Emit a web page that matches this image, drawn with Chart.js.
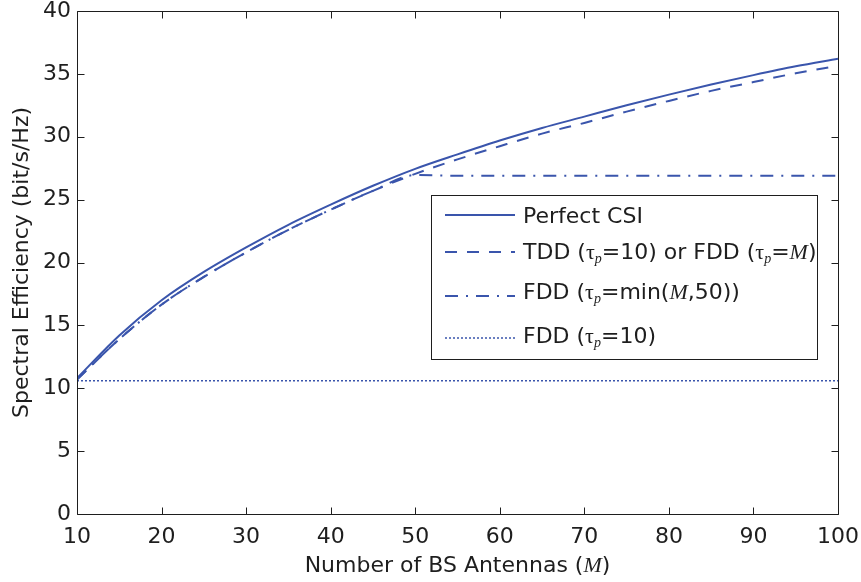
<!DOCTYPE html>
<html><head><meta charset="utf-8">
<script src="https://cdn.jsdelivr.net/npm/chart.js@4/dist/chart.umd.min.js"></script>
<style>html,body{margin:0;padding:0;background:#fff}#wrap{width:861px;height:582px}</style>
</head><body><div id="wrap"><canvas id="c" width="861" height="582"></canvas></div>
<script>
// ---- data ----
const antennas   = [10,15,20,25,30,35,40,45,50,55,60,65,70,75,80,85,90,95,100];
const perfectCSI = [10.8,14.2,17.0,19.25,21.2,23.0,24.6,26.1,27.45,28.6,29.7,30.7,31.6,32.5,33.35,34.15,34.9,35.6,36.2];
const tddOrFddM  = [10.7,13.9,16.65,18.85,20.8,22.6,24.2,25.7,27.05,28.2,29.25,30.25,31.1,32.0,32.85,33.65,34.35,35.05,35.65];
const fddMin50   = [10.7,13.9,16.65,18.85,20.8,22.6,24.2,25.7,26.95,26.9,26.9,26.9,26.9,26.9,26.9,26.9,26.9,26.9,26.9];
const fddTau10   = [10.6,10.6,10.6,10.6,10.6,10.6,10.6,10.6,10.6,10.6,10.6,10.6,10.6,10.6,10.6,10.6,10.6,10.6,10.6];
const xTicks = [10,20,30,40,50,60,70,80,90,100];
const yTicks = [0,5,10,15,20,25,30,35,40];

const BLUE = '#3a55ac';
const INK = '#1e1e1e';
const SANS = '"DejaVu Sans"';
const SERIF = '"Liberation Serif"';

function pts(vals){ return antennas.map((m,i)=>({x:m,y:vals[i]})); }

function richWidth(ctx, segs){
  let w=0; for(const s of segs){ ctx.font=s.f; w+=ctx.measureText(s.t).width; } return w;
}
function drawRich(ctx, x, y, segs){
  for(const s of segs){ ctx.font=s.f; ctx.fillText(s.t, x, y+(s.dy||0)); x+=ctx.measureText(s.t).width; }
}
const F = '22px '+SANS;
const TAU = {t:'\u03c4', f:'22px '+SERIF};
const SUBP = {t:'p', f:'italic 14px '+SERIF, dy:4};
const MIT = {t:'M', f:'italic 22px '+SERIF};

const legendItems = [
  {dash:[], lw:2, segs:[{t:'Perfect CSI',f:F}], ly:215, by:222.7},
  {dash:[12,10], lw:2, segs:[{t:'TDD (',f:F},TAU,SUBP,{t:'=10) or FDD (',f:F},TAU,SUBP,{t:'=',f:F},MIT,{t:')',f:F}], ly:252, by:258.5},
  {dash:[13,8,2,8], lw:2, segs:[{t:'FDD (',f:F},TAU,SUBP,{t:'=min(',f:F},MIT,{t:',50))',f:F}], ly:296, by:299},
  {dash:[2,2], lw:1.5, segs:[{t:'FDD (',f:F},TAU,SUBP,{t:'=10)',f:F}], ly:338, by:343.3},
];

const decor = {
  id:'decor',
  afterDraw(chart){
    const ctx=chart.ctx, a=chart.chartArea, xs=chart.scales.x, ys=chart.scales.y;
    ctx.save();
    ctx.strokeStyle=INK; ctx.lineWidth=1; ctx.setLineDash([]);
    const L=Math.round(a.left)+0.5, R=Math.round(a.right)+0.5, T=Math.round(a.top)+0.5, B=Math.round(a.bottom)+0.5;
    ctx.beginPath(); ctx.rect(L,T,R-L,B-T); ctx.stroke();
    ctx.beginPath();
    for(const v of yTicks){ const p=Math.round(ys.getPixelForValue(v))+0.5; ctx.moveTo(L,p); ctx.lineTo(L+7,p); ctx.moveTo(R,p); ctx.lineTo(R-7,p); }
    for(const v of xTicks){ const p=Math.round(xs.getPixelForValue(v))+0.5; ctx.moveTo(p,B); ctx.lineTo(p,B-7); ctx.moveTo(p,T); ctx.lineTo(p,T+7); }
    ctx.stroke();
    // legend
    ctx.fillStyle='#fff'; ctx.fillRect(431,195,387,165);
    ctx.strokeRect(431.5,195.5,386,164);
    for(const it of legendItems){
      ctx.strokeStyle=BLUE; ctx.lineWidth=it.lw; ctx.setLineDash(it.dash);
      ctx.beginPath(); ctx.moveTo(445,it.ly); ctx.lineTo(515,it.ly); ctx.stroke();
      ctx.setLineDash([]);
      ctx.fillStyle=INK; ctx.textAlign='left'; ctx.textBaseline='alphabetic';
      drawRich(ctx,523,it.by,it.segs);
    }
    // axis titles
    ctx.fillStyle=INK; ctx.textBaseline='alphabetic'; ctx.textAlign='left';
    const xt=[{t:'Number of BS Antennas (',f:F},MIT,{t:')',f:F}];
    const xw=richWidth(ctx,xt);
    drawRich(ctx,(a.left+a.right)/2-xw/2,571.5,xt);
    ctx.translate(28,(a.top+a.bottom)/2); ctx.rotate(-Math.PI/2);
    const yt=[{t:'Spectral Efficiency (bit/s/Hz)',f:F}];
    const yw=richWidth(ctx,yt);
    drawRich(ctx,-yw/2,0,yt);
    ctx.restore();
  }
};

const ds = (label, vals, dash, lw, mode) => ({
  label, data: pts(vals), borderColor: BLUE, backgroundColor: BLUE, borderWidth: lw,
  borderDash: dash, pointRadius: 0, fill: false,
  cubicInterpolationMode: mode, tension: 0
});

new Chart(document.getElementById('c'), {
  type: 'line',
  data: { datasets: [
    ds('FDD (τp=10)', fddTau10, [2,2], 1.5, 'default'),
    ds('FDD (τp=min(M,50))', fddMin50, [13,8,2,8], 2, 'monotone'),
    ds('TDD (τp=10) or FDD (τp=M)', tddOrFddM, [12,10], 2, 'monotone'),
    ds('Perfect CSI', perfectCSI, [], 2, 'monotone'),
  ]},
  options: {
    responsive: false, animation: false, devicePixelRatio: 1,
    layout: { padding: { top: 11, right: 23, left: 0, bottom: 0 } },
    plugins: { legend: { display: false }, tooltip: { enabled: false } },
    scales: {
      x: { type: 'linear', min: 10, max: 100,
        afterFit(s){ s.height = 68; s.paddingLeft = 0; s.paddingRight = 0; },
        afterBuildTicks(s){ s.ticks = xTicks.map(v=>({value:v})); },
        grid: { display: false, drawTicks: false }, border: { display: false },
        ticks: { padding: 10, color: INK, font: { family: 'DejaVu Sans', size: 22 }, maxRotation: 0, autoSkip: false }
      },
      y: { type: 'linear', min: 0, max: 40,
        afterFit(s){ s.width = 77; s.paddingTop = 0; s.paddingBottom = 0; },
        afterBuildTicks(s){ s.ticks = yTicks.map(v=>({value:v})); },
        grid: { display: false, drawTicks: false }, border: { display: false },
        ticks: { padding: 6, color: INK, font: { family: 'DejaVu Sans', size: 22 }, autoSkip: false }
      }
    }
  },
  plugins: [decor]
});
</script></body></html>
